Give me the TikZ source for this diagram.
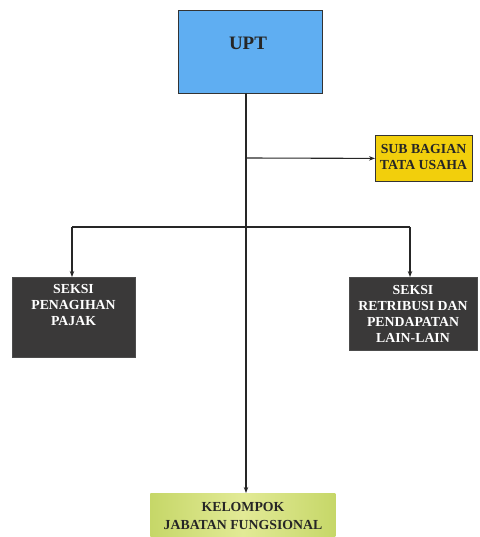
\documentclass[tikz,border=0pt]{standalone}
\usepackage{fontspec}
\setmainfont{Liberation Serif}
\usetikzlibrary{arrows.meta}
\definecolor{uptblue}{HTML}{5FAEF2}
\definecolor{subyellow}{HTML}{F2CF0C}
\definecolor{darkbox}{HTML}{3A3939}
\definecolor{greenA}{HTML}{C6D768}
\definecolor{greenB}{HTML}{E2EA96}
\tikzset{
  box/.style={draw=black!80, line width=0.8pt, inner sep=0pt, anchor=north west},
  dbox/.style={box, fill=darkbox, draw=black!70},
  lbl/.style={font=\bfseries\fontsize{13.8}{16}\selectfont, align=center, inner sep=0pt},
  conn/.style={line width=1.1pt, draw=black!85},
  arr/.style={conn, -{Stealth[length=6pt,width=4.5pt]}},
}
\begin{document}
\begin{tikzpicture}[x=1pt,y=-1pt]
\useasboundingbox (0,0) rectangle (479,537);
% boxes
\node[box, fill=uptblue, minimum width=144pt, minimum height=83pt] (upt) at (178,10) {};
\node[lbl, font=\bfseries\fontsize{19}{22}\selectfont, text=black!85] (uptt) at (248,43) {UPT};
\node[box, fill=subyellow, minimum width=97pt, minimum height=46pt] (sub) at (375,135) {};
\node[lbl, text=black!85] (subt) at (423.5,157) {SUB BAGIAN\\TATA USAHA};
\node[dbox, minimum width=123pt, minimum height=80pt] (pen) at (12,277) {};
\node[lbl, text=white] (pent) at (73.5,305) {SEKSI\\PENAGIHAN\\PAJAK};
\node[dbox, minimum width=128pt, minimum height=73pt] (ret) at (349,277) {};
\node[lbl, text=white] (rett) at (413,314) {SEKSI\\RETRIBUSI DAN\\PENDAPATAN\\LAIN-LAIN};
\node[box, draw=none, left color=greenA, right color=greenA, middle color=greenB, minimum width=185pt, minimum height=48pt] (kel) at (150,493) {};
\node[lbl, text=black!85, font=\bfseries\fontsize{13.8}{18}\selectfont] (kelt) at (243,516) {KELOMPOK\\JABATAN FUNGSIONAL};
% connectors
\coordinate (top) at (246,93);
\coordinate (j1) at (246,158);
\coordinate (hl) at (72,227);
\coordinate (hr) at (410,227);
\coordinate (kin) at (246,493);
\coordinate (pin) at (72,277);
\coordinate (rin) at (410,277);
\draw[arr] (top) -- (kin);
\draw[arr] (j1) -- (sub.west);
\draw[conn] (hl) -- (hr);
\draw[arr] (hl) -- (pin);
\draw[arr] (hr) -- (rin);
\end{tikzpicture}
\end{document}
